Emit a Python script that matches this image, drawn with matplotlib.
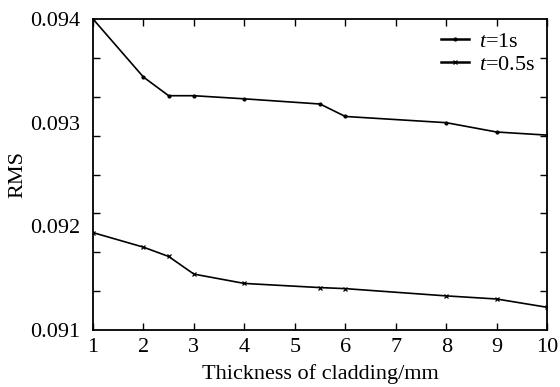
import numpy as np
import matplotlib
matplotlib.use('Agg')
import matplotlib.pyplot as plt

plt.rcParams['font.family'] = ['Liberation Serif', 'DejaVu Serif']
plt.rcParams['mathtext.fontset'] = 'custom'
plt.rcParams['mathtext.it'] = 'Liberation Serif:italic'
plt.rcParams['mathtext.rm'] = 'Liberation Serif'

# thickness of cladding (mm)
thickness = [1, 2, 2.5, 3, 4, 5.5, 6, 8, 9, 10]
# RMS values
rms_1s = [0.09400, 0.09344, 0.09326, 0.09326, 0.09323, 0.09318, 0.09306, 0.09300, 0.09291, 0.09288]
rms_05s = [0.09194, 0.09180, 0.09171, 0.09154, 0.09145, 0.09141, 0.09140, 0.09133, 0.09130, 0.09122]

fntsz = 16

fig = plt.figure(figsize=(5.6, 3.87), dpi=100)
ax = fig.add_axes([0.166, 0.147, 0.811, 0.804])

ax.plot(thickness, rms_1s, color='black', linewidth=1.2, marker='.', markersize=4,
        label='$t$=1s')
ax.plot(thickness, rms_05s, color='black', linewidth=1.2, marker='x', markersize=3.5,
        markeredgewidth=0.9, label='$t$=0.5s')

ax.set_xlim(1, 10)
ax.set_ylim(0.091, 0.094)
ax.set_xticks(range(1, 11))
ax.set_xticklabels([str(i) for i in range(1, 11)])

# labelled values without tick marks, separate tick marks on a finer grid
ax.set_yticks([0.091, 0.092, 0.093, 0.094])
ax.set_yticklabels(['0.091', '0.092', '0.093', '0.094'])
ax.set_yticks(np.linspace(0.091, 0.094, 9), minor=True)
ax.tick_params(axis='y', which='major', length=0, pad=9, labelsize=fntsz)
ax.tick_params(axis='y', which='minor', direction='in', length=5, width=1,
               left=True, right=True)
ax.tick_params(axis='x', which='major', direction='in', length=5, width=1,
               top=True, bottom=True, labelsize=fntsz, pad=6)

for s in ax.spines.values():
    s.set_linewidth(1.3)

ax.set_xlabel('Thickness of cladding/mm', fontsize=fntsz, labelpad=5)
ax.set_ylabel('RMS', fontsize=fntsz, labelpad=2)

leg = ax.legend(loc='upper right', frameon=False, fontsize=fntsz, numpoints=1,
                handlelength=1.25, handletextpad=0.45, labelspacing=0.1,
                borderaxespad=0.15)
for h in leg.legend_handles:
    h.set_linewidth(1.8)

fig.savefig('out.png', dpi=100)
